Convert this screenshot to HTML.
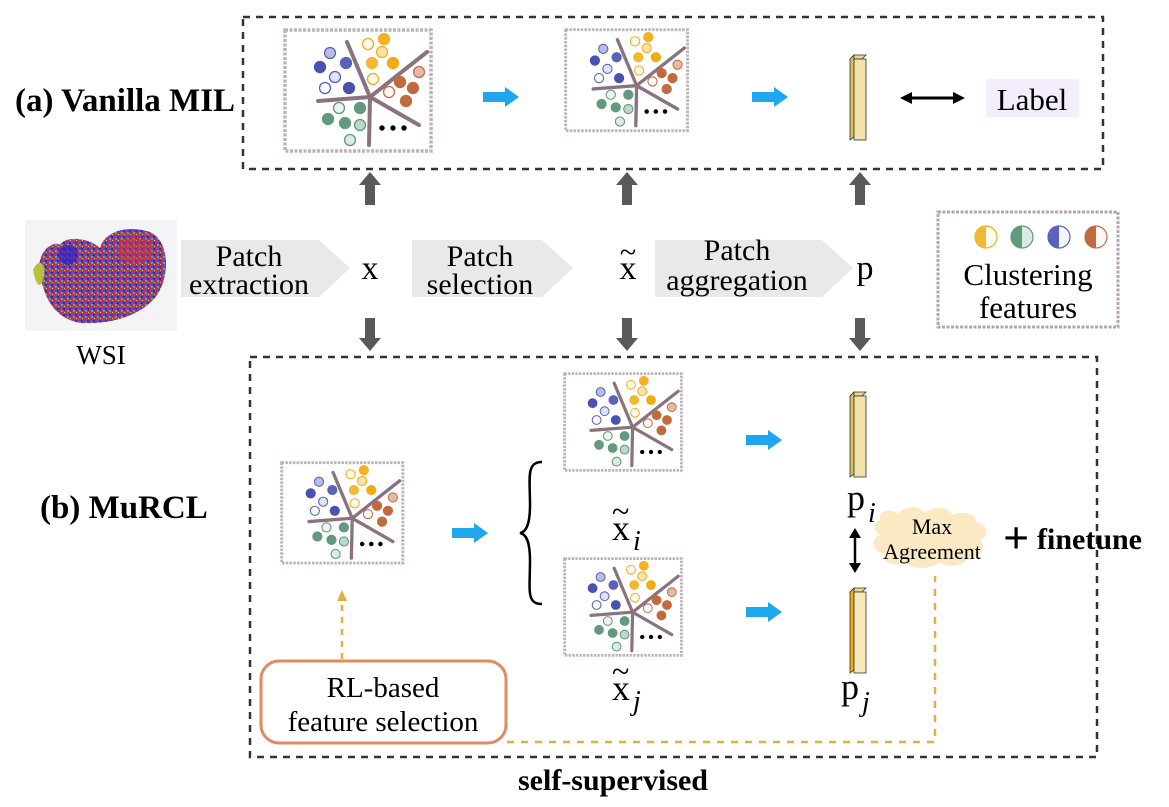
<!DOCTYPE html>
<html><head><meta charset="utf-8"><style>
html,body{margin:0;padding:0;background:#fff}
svg{display:block}
text{font-family:"Liberation Serif","DejaVu Serif","Noto Serif CJK SC",serif;fill:#000}
</style></head><body>
<svg width="1169" height="807" viewBox="0 0 1169 807" xmlns="http://www.w3.org/2000/svg">
<defs>
<g id="panel">
<rect x="2" y="2" width="146" height="121" fill="#fff" stroke="#c0b2b8" stroke-width="3.5" stroke-dasharray="3 1.5"/>
<g stroke="#8a727e" stroke-width="4" fill="none" stroke-linecap="round">
<line x1="87" y1="69" x2="64" y2="14"/><line x1="87" y1="69" x2="144" y2="24"/>
<line x1="87" y1="69" x2="35" y2="73"/><line x1="87" y1="69" x2="136" y2="97"/>
<line x1="87" y1="69" x2="86" y2="117"/></g>
<g stroke-width="1.3">
<circle cx="47" cy="25" r="5.5" fill="#b8bde6" stroke="#5a63b8"/>
<circle cx="37" cy="39" r="5.5" fill="#4a52b0" stroke="#4a52b0"/>
<circle cx="63" cy="35" r="5.5" fill="#5a63b8" stroke="#5a63b8"/>
<circle cx="52" cy="49" r="5.5" fill="#dfe2f5" stroke="#5a63b8"/>
<circle cx="42" cy="60" r="5.5" fill="#f8f8fd" stroke="#5a63b8"/>
<circle cx="66" cy="60" r="5.5" fill="#4a52b0" stroke="#4a52b0"/>
<circle cx="85" cy="16" r="5.5" fill="#fffaf0" stroke="#f0b020"/>
<circle cx="101" cy="11" r="5.5" fill="#f3b320" stroke="#f3b320"/>
<circle cx="99" cy="24" r="5.5" fill="#fbe3a8" stroke="#f0b020"/>
<circle cx="89" cy="35" r="5.5" fill="#f3b833" stroke="#f3b833"/>
<circle cx="110" cy="35" r="5.5" fill="#f0ac10" stroke="#f0ac10"/>
<circle cx="90" cy="51" r="5.5" fill="#fffaf0" stroke="#f0b020"/>
<circle cx="136" cy="44" r="5.5" fill="#e3bba3" stroke="#c07050"/>
<circle cx="117" cy="54" r="5.5" fill="#c06a3e" stroke="#c06a3e"/>
<circle cx="130" cy="60" r="5.5" fill="#c06a3e" stroke="#c06a3e"/>
<circle cx="106" cy="64" r="5.5" fill="#fff8f5" stroke="#c07050"/>
<circle cx="123" cy="73" r="5.5" fill="#c06a3e" stroke="#c06a3e"/>
<circle cx="56" cy="80" r="5.5" fill="#edf5f0" stroke="#5e9a7a"/>
<circle cx="77" cy="80" r="5.5" fill="#619a7c" stroke="#619a7c"/>
<circle cx="45" cy="91" r="5.5" fill="#619a7c" stroke="#619a7c"/>
<circle cx="62" cy="95" r="5.5" fill="#619a7c" stroke="#619a7c"/>
<circle cx="77" cy="97" r="5.5" fill="#bcd8c8" stroke="#5e9a7a"/>
<circle cx="67" cy="112" r="5.5" fill="#dcebe2" stroke="#5e9a7a"/>
</g>
<circle cx="99" cy="100" r="2.7"/><circle cx="110" cy="100" r="2.7"/><circle cx="121" cy="100" r="2.7"/>
</g>
<g id="barr"><polygon points="0,4 4,0 16,0 12,4" fill="#e8d890" stroke="#333" stroke-width="0.8"/>
<polygon points="0,4 4,0 4,82 0,85" fill="#d8c060" stroke="#333" stroke-width="0.8"/>
<rect x="4" y="4" width="12" height="81" fill="#efe3a8" stroke="#333" stroke-width="0.8"/></g>
<g id="blue"><polygon points="0,-5 22,-5 22,-10 36,0 22,10 22,5 0,5" fill="#1ea6ef"/></g>
<g id="gup"><polygon points="-5,33 -5,13 -11,13 0,0 11,13 5,13 5,33" fill="#595959"/></g>
<g id="gdown"><polygon points="-5,0 -5,20 -11,20 0,33 11,20 5,20 5,0" fill="#595959"/></g>
<pattern id="noise" width="6" height="6" patternUnits="userSpaceOnUse">
<rect width="6" height="6" fill="#8a3fa0"/><rect x="0" y="0" width="2" height="2" fill="#e02a20"/><rect x="3" y="2" width="2" height="2" fill="#2030d0"/><rect x="1" y="4" width="2" height="2" fill="#30b0d0"/><rect x="4" y="4" width="2" height="2" fill="#d02040"/><rect x="4" y="0" width="1" height="1" fill="#e0d040"/></pattern>
</defs>

<rect x="243" y="17" width="860" height="152" fill="none" stroke="#333" stroke-width="2.5" stroke-dasharray="7 6"/>
<text x="15" y="111" font-size="33" font-weight="bold">(a) Vanilla MIL</text>
<use href="#panel" transform="translate(283,28)"/>
<use href="#panel" transform="translate(564,28) scale(0.835)"/>
<use href="#blue" x="483" y="97"/>
<use href="#blue" x="752" y="97"/>
<use href="#barr" x="850" y="55"/>
<line x1="908" y1="98" x2="957" y2="98" stroke="#000" stroke-width="3"/>
<polygon points="900,98 912,92 912,104"/><polygon points="965,98 953,92 953,104"/>
<rect x="986" y="79" width="93" height="38" fill="#f4eefc"/>
<text x="1032" y="110" font-size="31" text-anchor="middle">Label</text>

<use href="#gup" x="370" y="172"/><use href="#gup" x="627" y="172"/><use href="#gup" x="860" y="172"/>
<use href="#gdown" x="370" y="318"/><use href="#gdown" x="627" y="318"/><use href="#gdown" x="860" y="318"/>

<rect x="25" y="220" width="152" height="111" fill="#f4f4f6"/>
<path d="M40 275 C35 250 55 240 60 245 C65 235 90 238 100 248 C105 230 130 225 150 232 C168 240 170 270 160 290 C150 310 120 325 80 323 C55 318 45 300 40 275 Z" fill="url(#noise)"/>
<path d="M33 270 C38 258 46 262 44 275 C42 290 36 288 33 270Z" fill="#b8c040"/>
<ellipse cx="68" cy="255" rx="10" ry="10" fill="#3020c8" opacity="0.7"/>
<ellipse cx="135" cy="250" rx="18" ry="14" fill="#d03040" opacity="0.5"/>
<text x="101" y="364" font-size="27" text-anchor="middle">WSI</text>

<polygon points="181,240 319,240 350,268 319,297 181,297" fill="#e9e9e9"/>
<polygon points="412,240 542,240 573,268 542,297 412,297" fill="#e9e9e9"/>
<polygon points="655,240 822,240 853,268 822,297 655,297" fill="#e9e9e9"/>
<text x="249" y="266" font-size="30" text-anchor="middle">Patch</text>
<text x="249" y="294" font-size="30" text-anchor="middle">extraction</text>
<text x="480" y="266" font-size="30" text-anchor="middle">Patch</text>
<text x="480" y="294" font-size="30" text-anchor="middle">selection</text>
<text x="737" y="260" font-size="30" text-anchor="middle">Patch</text>
<text x="737" y="290" font-size="30" text-anchor="middle">aggregation</text>
<text x="370" y="279" font-size="34" text-anchor="middle">x</text>
<text x="628" y="279" font-size="34" text-anchor="middle">x</text>
<text x="628" y="262" font-size="30" text-anchor="middle">~</text>
<text x="865" y="279" font-size="34" text-anchor="middle">p</text>

<rect x="938" y="212" width="180" height="115" fill="none" stroke="#b5a5ac" stroke-width="3" stroke-dasharray="3 1.5"/>
<g stroke-width="1.2">
<circle cx="986" cy="237" r="11" fill="#fffaf0" stroke="#f0b020"/><path d="M986 226 A11 11 0 0 0 986 248Z" fill="#f3b833"/>
<circle cx="1022" cy="237" r="11" fill="#dcebe2" stroke="#5e9a7a"/><path d="M1022 226 A11 11 0 0 0 1022 248Z" fill="#619a7c"/>
<circle cx="1059" cy="237" r="11" fill="#f5f5fc" stroke="#5a63b8"/><path d="M1059 226 A11 11 0 0 0 1059 248Z" fill="#5a63b8"/>
<circle cx="1096" cy="237" r="11" fill="#fff8f5" stroke="#c07050"/><path d="M1096 226 A11 11 0 0 0 1096 248Z" fill="#c06a3e"/>
</g>
<text x="1028" y="285" font-size="31" text-anchor="middle">Clustering</text>
<text x="1028" y="318" font-size="31" text-anchor="middle">features</text>

<rect x="250" y="357" width="847" height="400" fill="none" stroke="#333" stroke-width="2.5" stroke-dasharray="7 6"/>
<text x="40" y="518" font-size="33" font-weight="bold">(b) MuRCL</text>
<use href="#panel" transform="translate(280,461) scale(0.83)"/>
<use href="#blue" x="452" y="533"/>
<path d="M542 462 C526 462 530 478 530 505 C530 525 526 532 520 533 C526 534 530 541 530 561 C530 590 526 604 542 604" fill="none" stroke="#000" stroke-width="2.5"/>
<use href="#panel" transform="translate(563,372) scale(0.8)"/>
<use href="#panel" transform="translate(563,557) scale(0.8)"/>
<use href="#blue" x="746" y="440"/>
<use href="#blue" x="746" y="612"/>
<use href="#barr" x="850" y="392"/>
<g transform="translate(850,588)"><polygon points="0,4 4,0 16,0 12,4" fill="#e8d890" stroke="#333" stroke-width="0.8"/>
<polygon points="0,4 4,0 4,82 0,85" fill="#f0a818" stroke="#333" stroke-width="0.8"/>
<rect x="4" y="4" width="12" height="81" fill="#f7e8b8" stroke="#333" stroke-width="0.8"/></g>
<text x="847" y="510" font-size="36">p</text><text x="868" y="522" font-size="28" font-style="italic">i</text>
<text x="841" y="699" font-size="36">p</text><text x="862" y="711" font-size="28" font-style="italic">j</text>
<text x="612" y="540" font-size="36">x</text><text x="612" y="522" font-size="32">~</text><text x="633" y="550" font-size="28" font-style="italic">i</text>
<text x="612" y="700" font-size="36">x</text><text x="612" y="682" font-size="32">~</text><text x="633" y="710" font-size="28" font-style="italic">j</text>
<line x1="855" y1="533" x2="855" y2="568" stroke="#000" stroke-width="2.5"/>
<polygon points="855,528 849,538 861,538"/><polygon points="855,573 849,563 861,563"/>
<path d="M880 520 C878 510 892 508 898 514 C905 505 920 505 925 513 C933 505 950 507 952 515 C962 510 978 514 976 522 C988 524 990 536 980 540 C988 548 978 560 968 558 C962 568 945 568 940 562 C930 570 912 570 906 562 C896 568 880 562 884 554 C872 552 870 538 880 535 C872 530 874 522 880 520Z" fill="#fbe9c4"/>
<text x="932" y="534" font-size="22" text-anchor="middle">Max</text>
<text x="932" y="559" font-size="22" text-anchor="middle">Agreement</text>
<text x="1003" y="553" font-size="46" font-weight="bold">+</text>
<text x="1037" y="549" font-size="30" font-weight="bold">finetune</text>

<rect x="261" y="661" width="245" height="82" rx="18" fill="#fff" stroke="#e08a60" stroke-width="3"/>
<text x="383" y="697" font-size="29" text-anchor="middle">RL-based</text>
<text x="383" y="731" font-size="29" text-anchor="middle">feature selection</text>
<line x1="342" y1="659" x2="342" y2="600" stroke="#e0b040" stroke-width="2.5" stroke-dasharray="6 6"/>
<polygon points="342,590 337,601 347,601" fill="#e0b040"/>
<path d="M507 742 L935 742 L935 576" fill="none" stroke="#e0b040" stroke-width="2.5" stroke-dasharray="7 7"/>
<text x="613" y="790" font-size="30" font-weight="bold" text-anchor="middle">self-supervised</text>
</svg>
</body></html>
